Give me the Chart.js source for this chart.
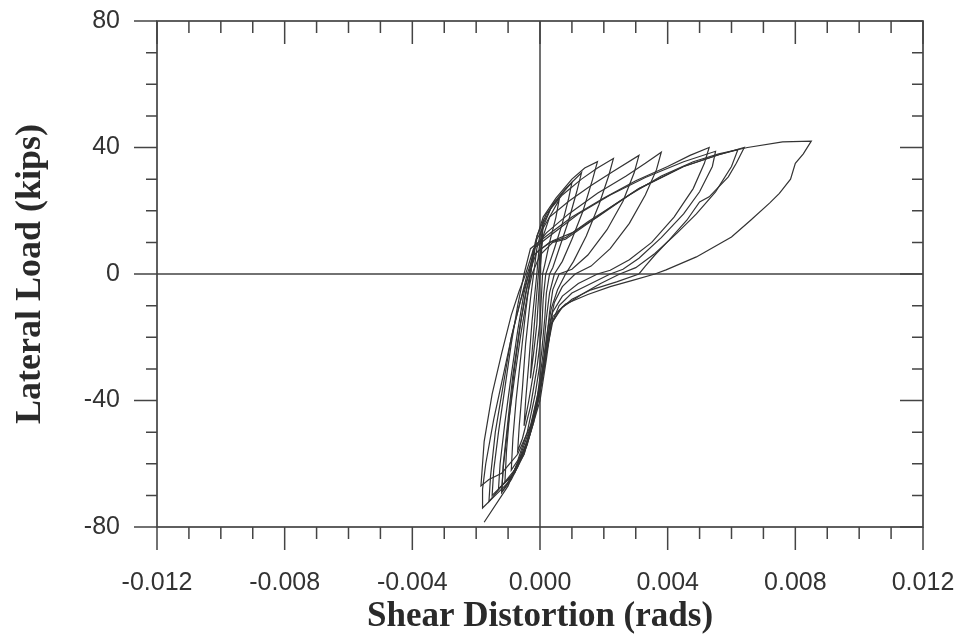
<!DOCTYPE html>
<html><head><meta charset="utf-8">
<script src="https://cdn.jsdelivr.net/npm/chart.js@4"></script>
<style>html,body{margin:0;padding:0;background:#fff;overflow:hidden;}canvas{display:block;}</style>
</head><body>
<canvas id="c" width="959" height="635"></canvas>
<script>
// ---- tick values ----
const xMajorTicks = [-0.012, -0.008, -0.004, 0, 0.004, 0.008, 0.012];
const xMinorTicks = [-0.011, -0.010, -0.009, -0.007, -0.006, -0.005, -0.003, -0.002, -0.001,
                     0.001, 0.002, 0.003, 0.005, 0.006, 0.007, 0.009, 0.010, 0.011];
const yMajorTicks = [-80, -40, 0, 40, 80];
const yMinorTicks = [-70, -60, -50, -30, -20, -10, 10, 20, 30, 50, 60, 70];

// ---- hysteresis cycles: [shear distortion (rads), lateral load (kips)] ----
const cycle1 = [[0,0],[0.00002,6],[0.00006,12],[0.0001,17.5],[0.00008,12],[0.00003,4],[0,0],[-0.00005,-8],[-0.0001,-16],[-0.0002,-25],[-0.0003,-33],[-0.00025,-25],[-0.00017,-15],[-0.0001,-6],[-0.00005,0]];
const cycle2 = [[-0.00005,0],[0,6],[0.0001,12],[0.0003,18],[0.0006,23.5],[0.0005,18],[0.0003,10],[0.00015,3],[0.00008,0],[0.00005,-6],[0,-15],[-0.00015,-28],[-0.00035,-40],[-0.0005,-48],[-0.00045,-40],[-0.00035,-28],[-0.00025,-15],[-0.00015,-5],[-0.0001,0]];
const cycle3 = [[-0.0001,0],[-0.00003,8],[0.0001,15],[0.00035,21],[0.0007,25.5],[0.001,29],[0.0009,24],[0.0007,16],[0.00045,8],[0.00025,2],[0.00018,0],[0.0001,-8],[0.00005,-18],[-0.0001,-30],[-0.0003,-42],[-0.00055,-52],[-0.0007,-56],[-0.00065,-48],[-0.00055,-36],[-0.00045,-22],[-0.0003,-8],[-0.0002,0]];
const cycle4 = [[-0.0002,0],[-0.0001,8],[0.0001,16],[0.0004,22],[0.0008,27],[0.0013,32],[0.00115,26],[0.0009,17],[0.0006,8],[0.0004,2],[0.0003,0],[0.0002,-6],[0.00015,-14],[0.00005,-25],[-0.00015,-38],[-0.0004,-50],[-0.0007,-59],[-0.0009,-62],[-0.00085,-52],[-0.00075,-40],[-0.0006,-26],[-0.00045,-12],[-0.0003,0]];
const cycle5 = [[-0.0003,0],[-0.00015,10],[0.0001,18],[0.0005,24],[0.001,30],[0.0014,33.5],[0.0018,35.5],[0.00165,30],[0.00135,20],[0.001,11],[0.0007,4],[0.00045,0],[0.0003,-6],[0.0002,-14],[0.0001,-25],[-0.0001,-40],[-0.0004,-53],[-0.0008,-63],[-0.0011,-66],[-0.00105,-56],[-0.00095,-44],[-0.0008,-30],[-0.0006,-15],[-0.0004,-4],[-0.0003,0]];
const cycle6 = [[-0.0003,0],[-0.0001,12],[0.0002,19],[0.0007,25],[0.0013,30],[0.0018,33.5],[0.0023,36.5],[0.00215,31],[0.00185,22],[0.00145,12],[0.00105,4],[0.0008,0],[0.00055,-5],[0.00035,-11],[0.0002,-20],[0.00005,-32],[-0.0002,-46],[-0.0005,-57],[-0.0009,-65],[-0.0012,-69],[-0.00115,-60],[-0.001,-46],[-0.00085,-32],[-0.00065,-18],[-0.00045,-6],[-0.0003,0]];
const cycle7 = [[-0.0003,0],[-0.0001,11],[0.0003,18],[0.0009,23],[0.0016,28],[0.0023,32.5],[0.0031,37.5],[0.00295,32],[0.0026,23],[0.0021,14],[0.0015,6],[0.001,1.5],[0.0006,0],[0.0004,-5],[0.0003,-12],[0.0002,-22],[0.00005,-34],[-0.0002,-47],[-0.0005,-57],[-0.0009,-64],[-0.0013,-68],[-0.00125,-60],[-0.0011,-47],[-0.0009,-32],[-0.0007,-18],[-0.0005,-6],[-0.00035,0]];
const cycle8 = [[-0.00035,0],[-0.0002,8],[0.0002,13],[0.0009,19],[0.0018,25.5],[0.0027,31],[0.0033,35],[0.0038,38.5],[0.00365,33],[0.0033,25],[0.0028,16],[0.0022,8],[0.0016,2.5],[0.0011,0],[0.0007,-4],[0.00045,-9],[0.0003,-16],[0.00015,-28],[-0.0001,-42],[-0.0004,-54],[-0.0008,-63],[-0.0015,-70],[-0.00145,-62],[-0.0013,-50],[-0.0011,-36],[-0.0009,-22],[-0.0007,-10],[-0.0005,0]];
const cycle9 = [[-0.0005,0],[-0.0003,8],[0.0002,12],[0.001,18],[0.002,24],[0.003,29.5],[0.004,34],[0.0047,37.5],[0.0053,40],[0.00515,35],[0.0048,27],[0.0042,18],[0.0035,10],[0.0028,4.5],[0.0022,1.2],[0.0018,0],[0.0012,-3],[0.0007,-7],[0.0004,-12],[0.0002,-22],[0,-35],[-0.0003,-48],[-0.0007,-57],[-0.0012,-63],[-0.0016,-65],[-0.00185,-67],[-0.0018,-60],[-0.00175,-53],[-0.0015,-38],[-0.0012,-25],[-0.0009,-13],[-0.00066,-5.6],[-0.00045,0]];
const cycle10 = [[-0.00045,0],[-0.0002,8],[0.0003,12],[0.0012,19],[0.0022,25],[0.0033,30.5],[0.0045,35.5],[0.0055,38.8],[0.0054,34],[0.005,26],[0.0045,19],[0.0038,11.5],[0.0031,5],[0.0026,1.5],[0.0022,0],[0.0016,-3],[0.001,-6],[0.0006,-10],[0.00035,-16],[0.00015,-28],[-0.0001,-42],[-0.0005,-56],[-0.001,-66],[-0.0014,-70],[-0.0018,-74],[-0.0018,-68],[-0.0017,-60],[-0.00145,-46],[-0.00115,-32],[-0.00085,-18],[-0.0006,-8],[-0.0004,0]];
const cycle11 = [[-0.0004,0],[-0.0002,6],[0.0003,10],[0.0008,11.5],[0.0015,16.5],[0.0022,21],[0.0031,27],[0.0045,34],[0.0056,37.7],[0.0062,39.3],[0.006,34],[0.0055,26],[0.0049,19],[0.0043,13],[0.0036,6.5],[0.003,2],[0.0025,0],[0.0019,-3],[0.0013,-6.5],[0.0007,-10.5],[0.0004,-15],[0.0002,-25],[0,-38],[-0.0003,-50],[-0.0007,-61],[-0.0012,-69],[-0.00115,-61],[-0.001,-48],[-0.0008,-33],[-0.0006,-19],[-0.0004,-7],[-0.00025,0]];
const cycle12 = [[-0.00025,0],[0,6],[0.0004,10],[0.0008,11],[0.0015,16],[0.0022,21],[0.0031,27],[0.0045,34],[0.0056,37.7],[0.0064,40],[0.00615,35],[0.0059,30.7],[0.0053,24.4],[0.005,22.8],[0.0046,17],[0.00405,10.8],[0.0036,6],[0.0033,2.5],[0.0031,0],[0.0024,-2.5],[0.0016,-5],[0.001,-8],[0.0006,-11.5],[0.00035,-16],[0.0002,-27],[0,-40],[-0.00035,-52],[-0.0008,-62],[-0.0016,-72],[-0.00155,-64],[-0.0014,-50],[-0.00115,-35],[-0.0009,-20],[-0.0006,-8],[-0.00035,0]];
const cycle13 = [[-0.00035,0],[-0.0001,7],[0.0004,10.5],[0.001,13],[0.0018,18],[0.0028,25],[0.0038,31],[0.0048,35.5],[0.0056,38],[0.0065,40],[0.0076,41.8],[0.0085,42],[0.00825,38],[0.008,35],[0.00785,30],[0.0075,25.5],[0.0072,22.5],[0.0066,17],[0.006,11.7],[0.0049,5.4],[0.00395,1.3],[0.0036,0],[0.0029,-2],[0.0022,-4],[0.0015,-6.5],[0.0008,-9.5],[0.0004,-13.5],[0.00025,-22],[0.00005,-34],[-0.00025,-47],[-0.0006,-57],[-0.001,-67],[-0.00175,-78.5]];

const cycles = [cycle1, cycle2, cycle3, cycle4, cycle5, cycle6, cycle7, cycle8, cycle9, cycle10, cycle11, cycle12, cycle13];

const INK = '#333333';
const FRAME = '#444444';

const framePlugin = {
  id: 'frameTicks',
  beforeDatasetsDraw(chart) {
    const {ctx, chartArea: a, scales: {x, y}} = chart;
    ctx.save();
    ctx.strokeStyle = FRAME;
    ctx.lineWidth = 1.5;
    const x0 = x.getPixelForValue(0), y0 = y.getPixelForValue(0);
    ctx.beginPath();
    ctx.moveTo(x0, a.top); ctx.lineTo(x0, a.bottom);
    ctx.moveTo(a.left, y0); ctx.lineTo(a.right, y0);
    ctx.stroke();
    ctx.restore();
  },
  afterDatasetsDraw(chart) {
    const {ctx, chartArea: a, scales: {x, y}} = chart;
    const MAJ = 23, MIN = 12;
    ctx.save();
    ctx.strokeStyle = FRAME;
    ctx.lineWidth = 1.7;
    ctx.strokeRect(a.left, a.top, a.right - a.left, a.bottom - a.top);
    ctx.lineWidth = 1.5;
    ctx.beginPath();
    const xt = (v, len) => {
      const p = x.getPixelForValue(v);
      ctx.moveTo(p, a.bottom); ctx.lineTo(p, a.bottom + len);
      ctx.moveTo(p, a.top); ctx.lineTo(p, a.top + len);
    };
    const yt = (v, len) => {
      const p = y.getPixelForValue(v);
      ctx.moveTo(a.left, p); ctx.lineTo(a.left - len, p);
      ctx.moveTo(a.right, p); ctx.lineTo(a.right - len, p);
    };
    xMajorTicks.forEach(v => xt(v, MAJ));
    xMinorTicks.forEach(v => xt(v, MIN));
    yMajorTicks.forEach(v => yt(v, MAJ));
    yMinorTicks.forEach(v => yt(v, MIN - 1));
    ctx.stroke();
    ctx.restore();
  }
};

const noEdgePadding = s => { s.paddingLeft = 0; s.paddingRight = 0; s.paddingTop = 0; s.paddingBottom = 0; };

new Chart(document.getElementById('c'), {
  type: 'scatter',
  data: {
    datasets: cycles.map((c, i) => ({
      label: 'Cycle ' + (i + 1),
      data: c.map(p => ({x: p[0], y: p[1]})),
      showLine: true,
      borderColor: INK,
      borderWidth: 1.2,
      pointRadius: 0,
      tension: 0,
      fill: false
    }))
  },
  options: {
    responsive: false,
    animation: false,
    devicePixelRatio: 1,
    layout: {padding: {top: 21, right: 36, left: 0, bottom: 0}},
    plugins: {legend: {display: false}, tooltip: {enabled: false}},
    scales: {
      x: {
        type: 'linear', min: -0.012, max: 0.012,
        grid: {display: false}, border: {display: false},
        afterBuildTicks: s => { s.ticks = xMajorTicks.map(v => ({value: v})); },
        afterFit: s => { s.height = 108; noEdgePadding(s); },
        ticks: {
          color: INK, font: {family: 'Liberation Sans', size: 25}, padding: 33,
          maxRotation: 0, autoSkip: false,
          callback: v => Number(v).toFixed(3)
        },
        title: {
          display: true, text: 'Shear Distortion (rads)', color: '#2a2a2a',
          font: {family: 'Liberation Serif', size: 35, weight: 'bold', lineHeight: 1.05},
          padding: {top: 0, bottom: 0}
        }
      },
      y: {
        type: 'linear', min: -80, max: 80,
        grid: {display: false}, border: {display: false},
        afterBuildTicks: s => { s.ticks = yMajorTicks.map(v => ({value: v})); },
        afterFit: s => { s.width = 157; noEdgePadding(s); },
        ticks: {
          color: INK, font: {family: 'Liberation Sans', size: 25}, padding: 29,
          autoSkip: false,
          callback: v => String(v)
        },
        title: {
          display: true, text: 'Lateral Load (kips)', color: '#2a2a2a',
          font: {family: 'Liberation Serif', size: 36, weight: 'bold'},
          padding: {top: 9, bottom: 0}
        }
      }
    }
  },
  plugins: [framePlugin]
});
</script>
</body></html>
